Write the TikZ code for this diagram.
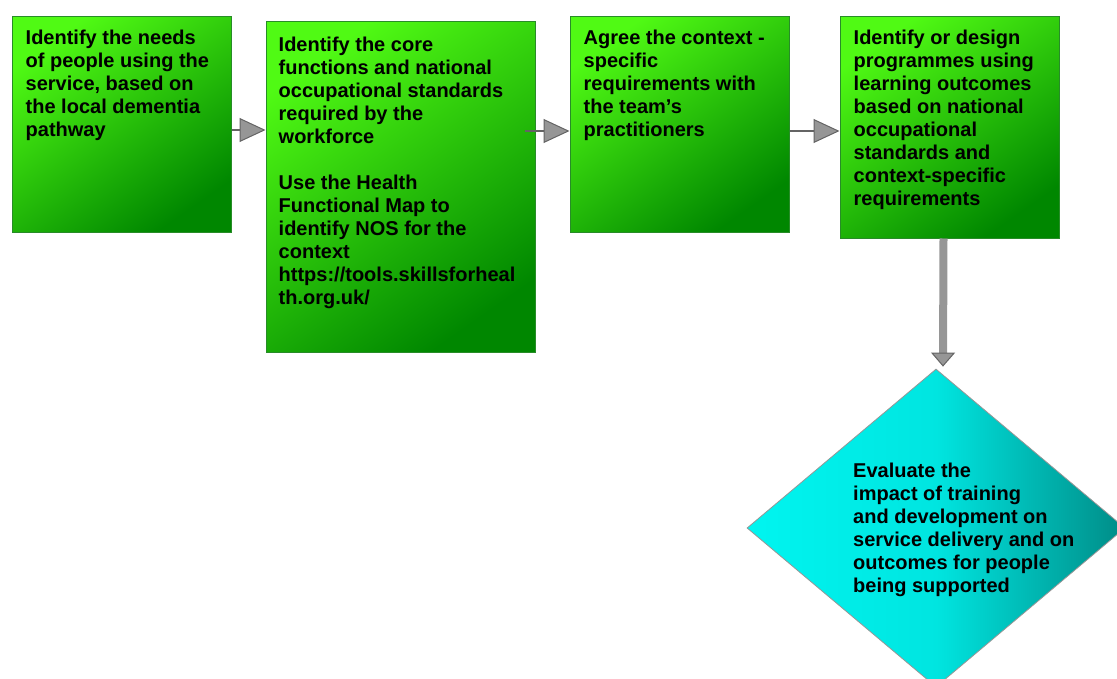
\documentclass[tikz,border=0pt]{standalone}
\usepackage{fontspec}
\setmainfont{Liberation Sans}
\usetikzlibrary{shapes.geometric,arrows.meta,calc}
\definecolor{grnlight}{RGB}{80,250,20}
\definecolor{grndark}{RGB}{0,135,0}
\definecolor{grnedge}{RGB}{40,140,40}
\definecolor{cyanlight}{RGB}{0,245,240}
\definecolor{cyandark}{RGB}{0,140,135}
\definecolor{arrowgray}{RGB}{150,150,150}
\definecolor{arrowedge}{RGB}{100,100,100}

\tikzset{
  stagebox/.style={draw=grnedge, line width=1pt, shading=axis,
    top color=grnlight, bottom color=grndark, shading angle=35,
    minimum width=219pt, minimum height=216pt, inner sep=0pt},
  stagetext/.style={anchor=north west, align=left, inner sep=0pt,
    font=\fontsize{20}{23}\selectfont\bfseries},
  flowarrow/.style={draw=arrowedge, line width=2pt,
    -{Triangle[length=26pt,width=24pt,fill=arrowgray,line width=1pt]}},
}

\begin{document}
\begin{tikzpicture}[x=1pt, y=-1pt]
  \useasboundingbox (0,0) rectangle (1117,678);

  % --- stages ---
  \node[stagebox] (needs) at (121.5,124) {};
  \node[stagebox, minimum width=269pt, minimum height=331pt] (core) at (400.5,186.5) {};
  \node[stagebox] (context) at (679.5,124) {};
  \node[stagebox, minimum height=222pt] (design) at (949.5,127) {};

  % --- evaluation ---
  \begin{scope}
    \clip (0,0) rectangle (1117,678);
    \node[diamond, draw=arrowgray, line width=0.8pt, shading=axis,
      left color=cyanlight, right color=cyandark, middle color=cyanlight!85!cyandark,
      minimum width=378pt, minimum height=318pt, inner sep=0pt] (evaluate) at (936,528) {};
  \end{scope}

  % --- texts ---
  \node[stagetext] (needstxt) at ($(needs.north west)+(14,14)$) {Identify the needs\\of people using the\\service, based on\\the local dementia\\pathway};
  \node[stagetext] (coretxt) at ($(core.north west)+(13,16)$) {Identify the core\\functions and national\\occupational standards\\required by the\\workforce\\[23pt]Use the Health\\Functional Map to\\identify NOS for the\\context\\https://tools.skillsforheal\\th.org.uk/};
  \node[stagetext] (contexttxt) at ($(context.north west)+(14,14)$) {Agree the context -\\specific\\requirements with\\the team’s\\practitioners};
  \node[stagetext] (designtxt) at ($(design.north west)+(14,14)$) {Identify or design\\programmes using\\learning outcomes\\based on national\\occupational\\standards and\\context-specific\\requirements};
  \node[stagetext] (evaluatetxt) at (853,463) {Evaluate the\\impact of training\\and development on\\service delivery and on\\outcomes for people\\being supported};

  % --- connectors ---
  \draw[flowarrow] ($(needs.east)+(0,6)$) -- ($(core.west |- needs.east)+(0,6)$);
  \draw[flowarrow] ($(core.east |- needs.east)+(-11,7)$) -- ($(context.west)+(0,7)$);
  \draw[flowarrow] ($(context.east)+(0,7)$) -- ($(design.west |- context.east)+(0,7)$);
  \draw[draw=arrowgray, line width=8pt,
    -{Triangle[length=14pt,width=24pt,fill=arrowgray,color=arrowedge,line width=1pt]}]
    ($(design.south)+(-6,0)$) -- ($(evaluate.north)+(7,-2)$);
\end{tikzpicture}
\end{document}
